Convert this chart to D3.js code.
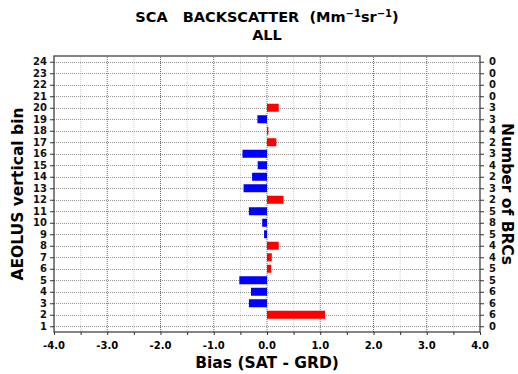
<!DOCTYPE html>
<html>
<head>
<meta charset="utf-8">
<script src="https://cdn.jsdelivr.net/npm/d3@7"></script>
<style>
  body { margin: 0; background: #fff; }
  text { font-family: "DejaVu Sans", sans-serif; font-weight: bold; }
</style>
</head>
<body>
<script>
// data
var bins = d3.range(1, 25);
var bias = [null, 1.09, -0.34, -0.30, -0.52, 0.08, 0.09, 0.22, -0.055, -0.09, -0.34, 0.31,
            -0.44, -0.28, -0.175, -0.46, 0.175, 0.025, -0.18, 0.22, null, null, null, null];
var counts = [0, 6, 6, 6, 5, 5, 4, 4, 5, 8, 5, 2, 3, 2, 4, 3, 2, 4, 3, 3, 0, 0, 0, 0];
var xTicks = [-4, -3, -2, -1, 0, 1, 2, 3, 4];

var W = 518, H = 374;
var margin = {left: 54, right: 38, top: 56, bottom: 42};

var svg = d3.select("body").append("svg")
    .attr("width", W)
    .attr("height", H);

var x = d3.scaleLinear().domain([-4, 4]).range([margin.left, W - margin.right]);
var y = d3.scaleLinear().domain([0.5, 24.5]).range([H - margin.bottom, margin.top]);

// grid - minor verticals
svg.append("g")
    .selectAll("line")
    .data(d3.range(-3.5, 4, 1))
    .enter()
    .append("line")
        .attr("x1", d => x(d)).attr("x2", d => x(d))
        .attr("y1", y(0.5)).attr("y2", y(24.5))
        .attr("stroke", "#c4c4c4")
        .attr("stroke-width", 0.8)
        .attr("stroke-dasharray", "1,1");

// major verticals
svg.append("g")
    .selectAll("line")
    .data(d3.range(-3, 4, 1))
    .enter()
    .append("line")
        .attr("x1", d => x(d)).attr("x2", d => x(d))
        .attr("y1", y(0.5)).attr("y2", y(24.5))
        .attr("stroke", "#444")
        .attr("stroke-width", 0.8)
        .attr("stroke-dasharray", "1,1");

// horizontal grid at each bin
svg.append("g")
    .selectAll("line")
    .data(bins)
    .enter()
    .append("line")
        .attr("x1", x(-4)).attr("x2", x(4))
        .attr("y1", d => Math.round(y(d)) + 0.5).attr("y2", d => Math.round(y(d)) + 0.5)
        .attr("stroke", "#777")
        .attr("stroke-width", 0.8)
        .attr("stroke-dasharray", "1,1");

// bars
var barH = 8;
svg.append("g")
    .selectAll("rect")
    .data(bins.filter((d, i) => bias[i] !== null))
    .enter()
    .append("rect")
        .attr("x", d => x(Math.min(0, bias[d - 1])))
        .attr("y", d => y(d) - barH / 2)
        .attr("width", d => Math.abs(x(bias[d - 1]) - x(0)))
        .attr("height", barH)
        .attr("fill", d => bias[d - 1] < 0 ? "#0000ff" : "#ff0000");

// axes
var xAxis = svg.append("g")
    .attr("transform", "translate(0," + y(0.5) + ")")
    .call(d3.axisBottom(x).tickValues(d3.range(-4, 4.01, 0.5)).tickSize(3).tickFormat(""));
xAxis.select(".domain").remove();
xAxis.selectAll("line").attr("stroke", "#333");

svg.append("g")
    .selectAll("text")
    .data(xTicks)
    .enter()
    .append("text")
        .attr("x", d => x(d))
        .attr("y", y(0.5) + 17)
        .attr("text-anchor", "middle")
        .attr("font-size", "10px")
        .text(d => d.toFixed(1));

var yLeft = svg.append("g")
    .attr("transform", "translate(" + x(-4) + ",0)")
    .call(d3.axisLeft(y).tickValues(bins).tickSize(4).tickPadding(3));
yLeft.select(".domain").remove();
yLeft.selectAll("text").attr("font-size", "10px").attr("font-family", "DejaVu Sans").attr("font-weight", "bold").attr("fill", "#111");
yLeft.selectAll("line").attr("stroke", "#333");

var yRight = svg.append("g")
    .attr("transform", "translate(" + x(4) + ",0)")
    .call(d3.axisRight(y).tickValues(bins).tickSize(4).tickPadding(5).tickFormat(d => counts[d - 1]));
yRight.select(".domain").remove();
yRight.selectAll("text").attr("font-size", "10px").attr("font-family", "DejaVu Sans").attr("font-weight", "bold").attr("fill", "#111");
yRight.selectAll("line").attr("stroke", "#333");

// frame
svg.append("rect")
    .attr("x", x(-4)).attr("y", y(24.5))
    .attr("width", x(4) - x(-4)).attr("height", y(0.5) - y(24.5))
    .attr("fill", "none")
    .attr("stroke", "#333")
    .attr("stroke-width", 1.2);

// titles
var title = svg.append("text")
    .attr("x", x(0))
    .attr("y", 22)
    .attr("text-anchor", "middle")
    .attr("font-size", "14.5px")
    .attr("xml:space", "preserve");
title.append("tspan").text("SCA   BACKSCATTER  (Mm");
title.append("tspan").attr("dy", -5).attr("font-size", "10px").text("\u22121");
title.append("tspan").attr("dy", 5).text("sr");
title.append("tspan").attr("dy", -5).attr("font-size", "10px").text("\u22121");
title.append("tspan").attr("dy", 5).text(")");

svg.append("text")
    .attr("x", x(0))
    .attr("y", 40)
    .attr("text-anchor", "middle")
    .attr("font-size", "14.5px")
    .text("ALL");

svg.append("text")
    .attr("x", x(0))
    .attr("y", 368)
    .attr("text-anchor", "middle")
    .attr("font-size", "15.5px")
    .text("Bias (SAT - GRD)");

svg.append("text")
    .attr("transform", "translate(23," + y(12.5) + ") rotate(-90)")
    .attr("text-anchor", "middle")
    .attr("font-size", "15.5px")
    .text("AEOLUS vertical bin");

svg.append("text")
    .attr("transform", "translate(502," + y(12.5) + ") rotate(90)")
    .attr("text-anchor", "middle")
    .attr("font-size", "15.5px")
    .text("Number of BRCs");
</script>
</body>
</html>
